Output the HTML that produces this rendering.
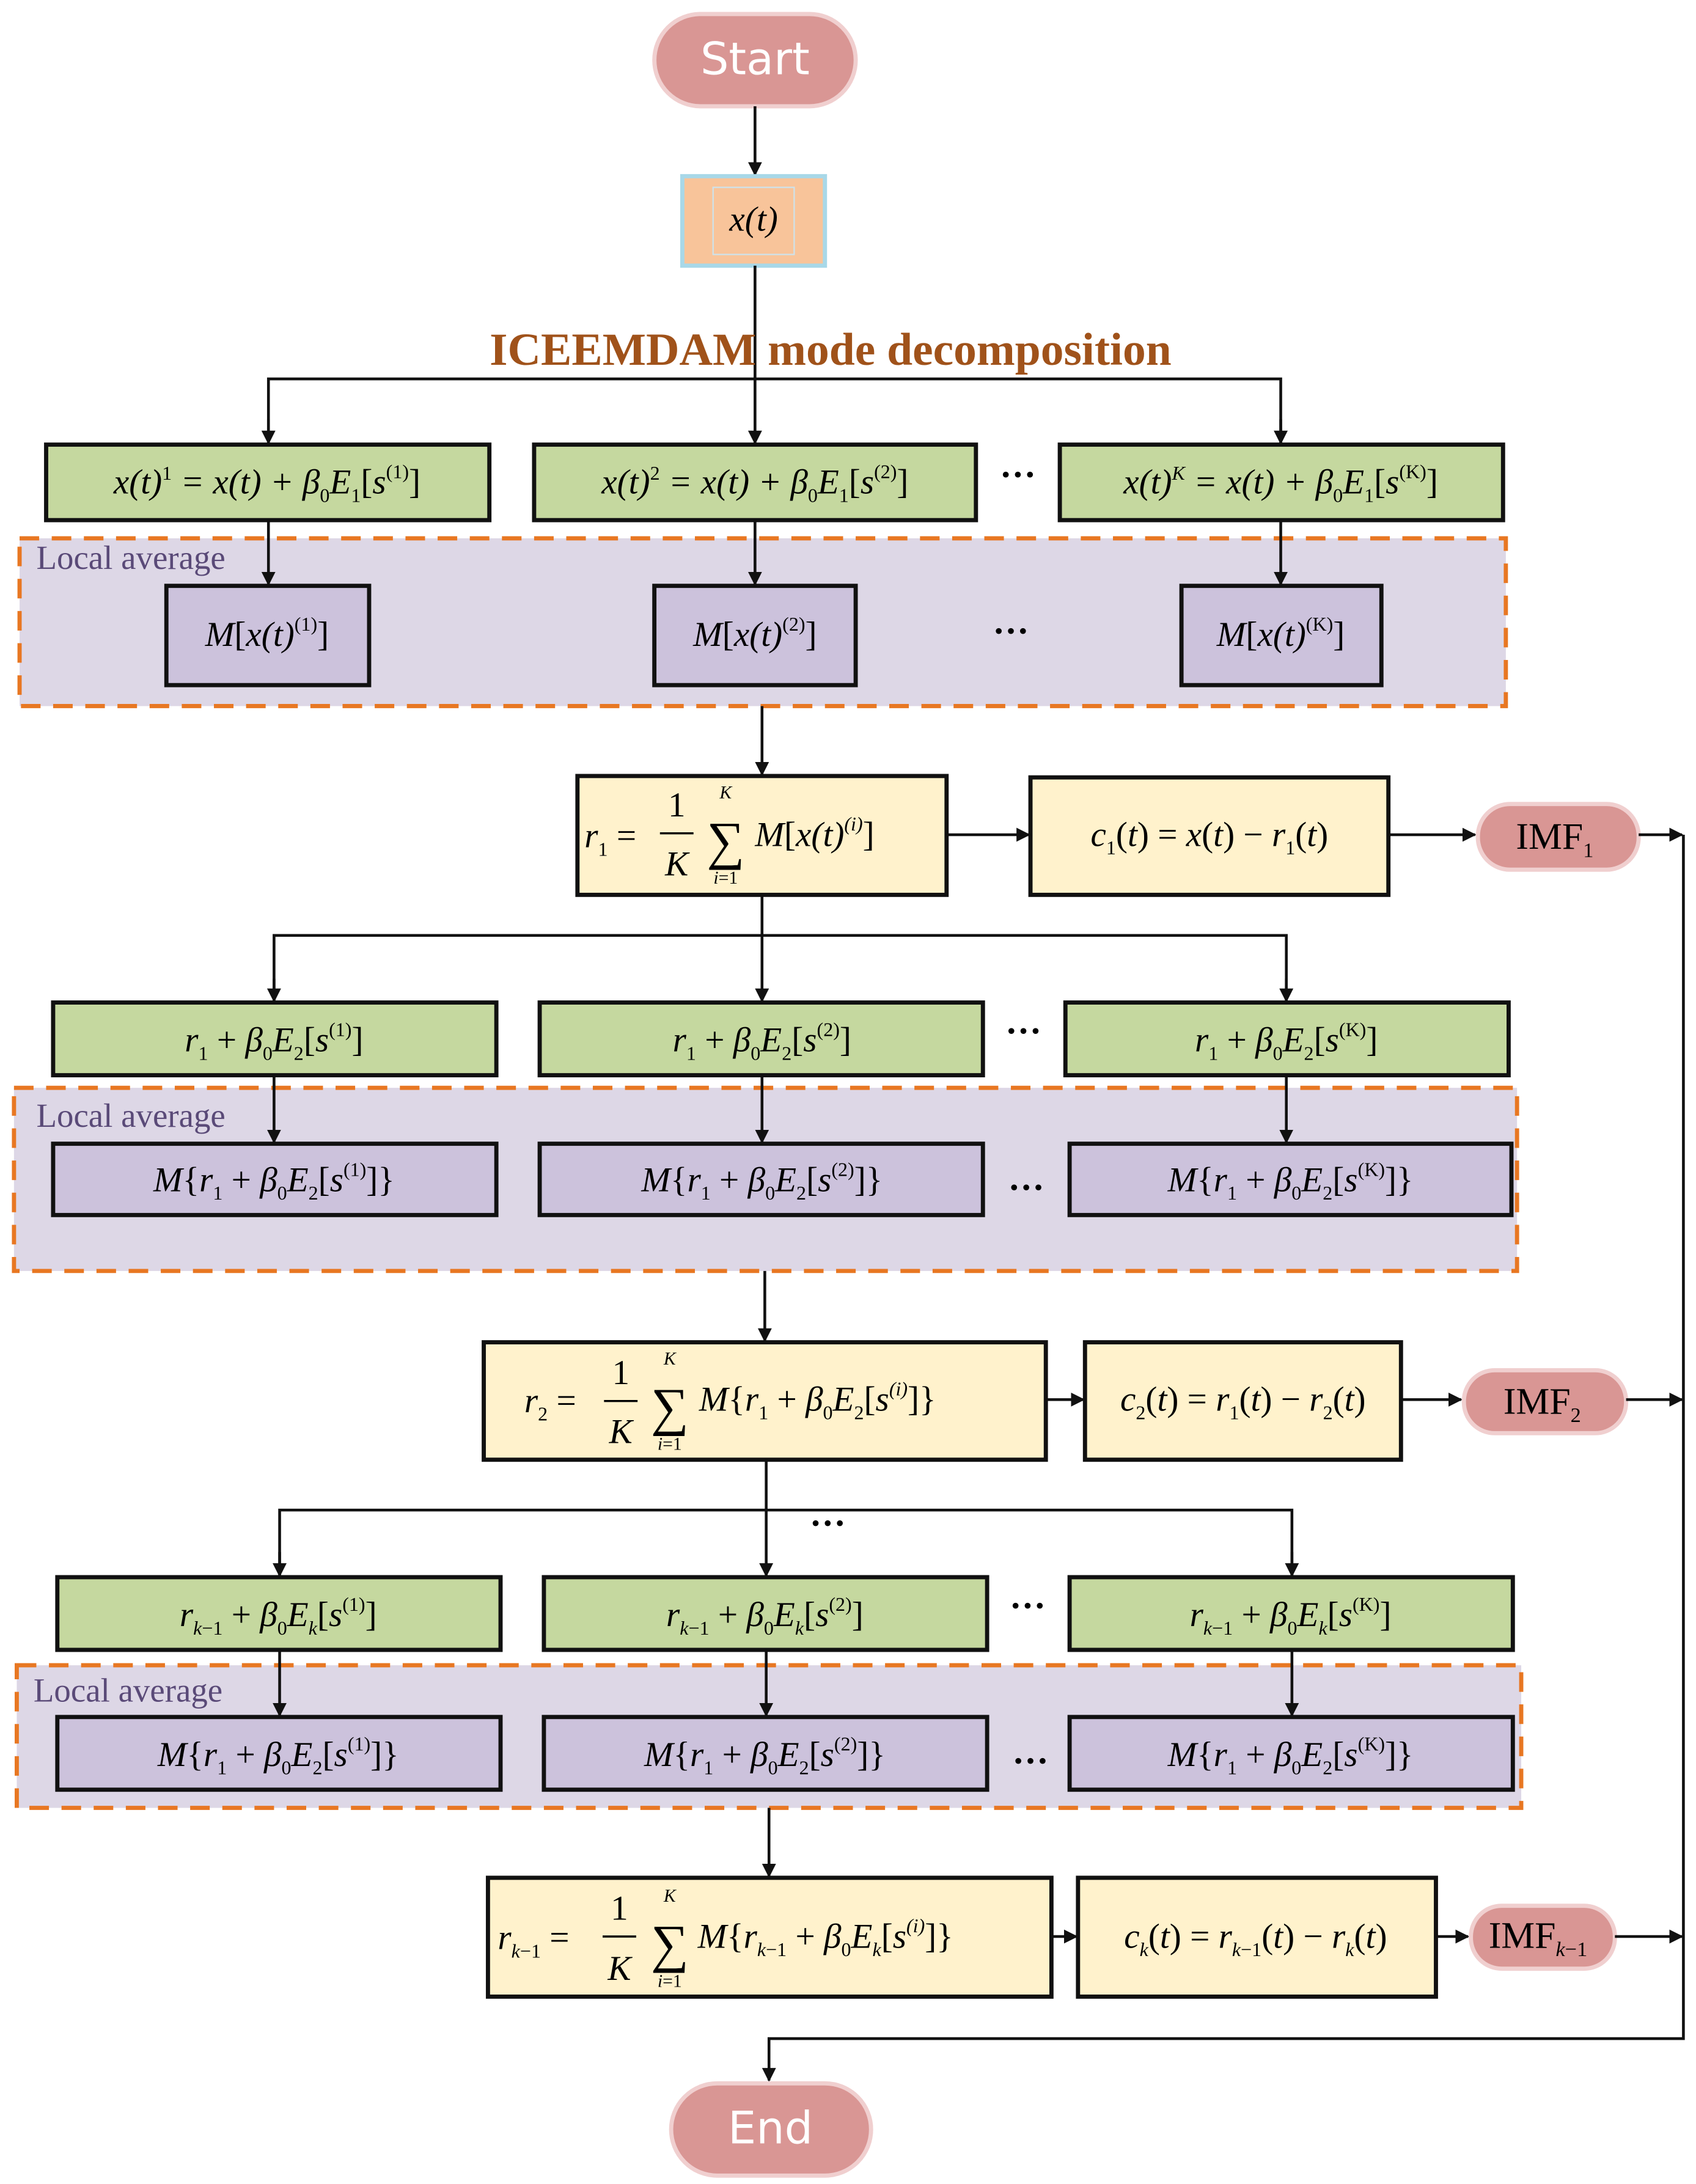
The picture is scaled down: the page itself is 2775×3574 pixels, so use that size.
<!DOCTYPE html>
<html><head><meta charset="utf-8"><style>
html,body{margin:0;padding:0;background:#fff}
svg{display:block}
.m{font-family:"Liberation Serif",serif;font-style:italic;font-size:25px;fill:#000}
.u{font-style:normal}
.la{font-family:"Liberation Serif",serif;font-size:24px;fill:#5a4a78}
.g{fill:#c5d89f;stroke:#111;stroke-width:3}
.p{fill:#ccc2dc;stroke:#111;stroke-width:3}
.y{fill:#fff2cc;stroke:#111;stroke-width:3}
.reg{fill:#ddd7e6;stroke:#e87722;stroke-width:3;stroke-dasharray:14 9}
.ln{stroke:#111;stroke-width:2;fill:none}
.pill{fill:#d99694;stroke:#f0cfcf;stroke-width:3}
.pt{font-family:"DejaVu Sans",sans-serif;font-size:32px;fill:#fff}
.imf{font-family:"Liberation Serif",serif;font-size:27px;fill:#000}
</style></head><body>
<svg width="2775" height="3574" viewBox="0 0 1213 1562" preserveAspectRatio="none" xmlns="http://www.w3.org/2000/svg">
<defs><marker id="a" markerWidth="10" markerHeight="10" refX="9" refY="5" orient="auto" markerUnits="userSpaceOnUse"><path d="M0,0 L10,5 L0,10 z" fill="#111"/></marker></defs>

<!-- Start -->
<rect x="468" y="10" width="144" height="66" rx="33" class="pill"/>
<text x="540" y="53" text-anchor="middle" class="pt">Start</text>
<line x1="540" y1="76" x2="540" y2="125" class="ln" marker-end="url(#a)"/>
<rect x="488" y="126" width="102" height="64" fill="#f8c49a" stroke="#a8d8e8" stroke-width="3"/>
<rect x="510" y="134" width="58" height="48" fill="none" stroke="#cfe2ea" stroke-width="1"/>
<text x="539" y="165" text-anchor="middle" class="m">x(t)</text>
<line x1="540" y1="190" x2="540" y2="317" class="ln" marker-end="url(#a)"/>
<text x="594" y="261" text-anchor="middle" font-family="Liberation Serif,serif" font-weight="bold" font-size="33" fill="#a0521a">ICEEMDAM mode decomposition</text>
<polyline points="192,317 192,271 916,271 916,317" class="ln"/>
<line x1="192" y1="300" x2="192" y2="317" class="ln" marker-end="url(#a)"/>
<line x1="916" y1="300" x2="916" y2="317" class="ln" marker-end="url(#a)"/>

<!-- Row1 green -->
<rect x="33" y="318" width="317" height="54" class="g"/>
<text x="191" y="353" text-anchor="middle" class="m">x(t)<tspan dy="-10" font-size="14" class="u">1</tspan><tspan dy="10"> = x(t) + β</tspan><tspan dy="6" font-size="14" class="u">0</tspan><tspan dy="-6">E</tspan><tspan dy="6" font-size="14" class="u">1</tspan><tspan dy="-6" class="u">[</tspan>s<tspan dy="-11" font-size="14" class="u">(1)</tspan><tspan dy="11" class="u">]</tspan></text>
<rect x="382" y="318" width="316" height="54" class="g"/>
<text x="540" y="353" text-anchor="middle" class="m">x(t)<tspan dy="-10" font-size="14" class="u">2</tspan><tspan dy="10"> = x(t) + β</tspan><tspan dy="6" font-size="14" class="u">0</tspan><tspan dy="-6">E</tspan><tspan dy="6" font-size="14" class="u">1</tspan><tspan dy="-6" class="u">[</tspan>s<tspan dy="-11" font-size="14" class="u">(2)</tspan><tspan dy="11" class="u">]</tspan></text>
<text x="728" y="348" text-anchor="middle" font-size="26" font-weight="bold">···</text>
<rect x="758" y="318" width="317" height="54" class="g"/>
<text x="916" y="353" text-anchor="middle" class="m">x(t)<tspan dy="-10" font-size="14">K</tspan><tspan dy="10"> = x(t) + β</tspan><tspan dy="6" font-size="14" class="u">0</tspan><tspan dy="-6">E</tspan><tspan dy="6" font-size="14" class="u">1</tspan><tspan dy="-6" class="u">[</tspan>s<tspan dy="-11" font-size="14" class="u">(K)</tspan><tspan dy="11" class="u">]</tspan></text>

<!-- Region1 -->
<rect x="14" y="385" width="1063" height="120" class="reg"/>
<text x="26" y="407" class="la">Local average</text>
<line x1="192" y1="372" x2="192" y2="418" class="ln" marker-end="url(#a)"/>
<line x1="540" y1="372" x2="540" y2="418" class="ln" marker-end="url(#a)"/>
<line x1="916" y1="372" x2="916" y2="418" class="ln" marker-end="url(#a)"/>
<rect x="119" y="419" width="145" height="71" class="p"/>
<text x="191" y="462" text-anchor="middle" class="m">M<tspan class="u">[</tspan>x(t)<tspan dy="-11" font-size="14" class="u">(1)</tspan><tspan dy="11" class="u">]</tspan></text>
<rect x="468" y="419" width="144" height="71" class="p"/>
<text x="540" y="462" text-anchor="middle" class="m">M<tspan class="u">[</tspan>x(t)<tspan dy="-11" font-size="14" class="u">(2)</tspan><tspan dy="11" class="u">]</tspan></text>
<text x="723" y="460" text-anchor="middle" font-size="26" font-weight="bold">···</text>
<rect x="845" y="419" width="143" height="71" class="p"/>
<text x="916" y="462" text-anchor="middle" class="m">M<tspan class="u">[</tspan>x(t)<tspan dy="-11" font-size="14" class="u">(K)</tspan><tspan dy="11" class="u">]</tspan></text>
<line x1="545" y1="505" x2="545" y2="554" class="ln" marker-end="url(#a)"/>

<!-- r1 -->
<rect x="413" y="555" width="264" height="85" class="y"/>
<text x="418" y="606" class="m">r<tspan dy="6" font-size="14" class="u">1</tspan><tspan dy="-6" class="u"> = </tspan></text>
<text x="484" y="584" text-anchor="middle" class="m u" style="font-style:normal">1</text>
<line x1="472" y1="596" x2="496" y2="596" stroke="#000" stroke-width="1.5"/>
<text x="484" y="626" text-anchor="middle" class="m">K</text>
<text x="519" y="571" text-anchor="middle" class="m" font-size="13" style="font-size:13px">K</text>
<text x="519" y="614" text-anchor="middle" font-family="Liberation Serif,serif" font-size="38">∑</text>
<text x="519" y="632" text-anchor="middle" class="m" style="font-size:13px">i<tspan class="u">=1</tspan></text>
<text x="540" y="605" class="m">M<tspan class="u">[</tspan>x(t)<tspan dy="-11" font-size="14">(i)</tspan><tspan dy="11" class="u">]</tspan></text>
<line x1="677" y1="597" x2="736" y2="597" class="ln" stroke-width="3" marker-end="url(#a)"/>
<rect x="737" y="556" width="256" height="84" class="y"/>
<text x="865" y="605" text-anchor="middle" class="m">c<tspan dy="6" font-size="14" class="u">1</tspan><tspan dy="-6" class="u">(</tspan>t<tspan class="u">) = </tspan>x<tspan class="u">(</tspan>t<tspan class="u">) − </tspan>r<tspan dy="6" font-size="14" class="u">1</tspan><tspan dy="-6" class="u">(</tspan>t<tspan class="u">)</tspan></text>
<line x1="993" y1="597" x2="1055" y2="597" class="ln" stroke-width="3" marker-end="url(#a)"/>
<rect x="1057" y="575" width="115" height="47" rx="23" class="pill"/>
<text x="1112" y="607" text-anchor="middle" class="imf">IMF<tspan dy="6" font-size="15">1</tspan></text>
<line x1="1172" y1="597" x2="1203" y2="597" class="ln" stroke-width="3" marker-end="url(#a)"/>

<!-- right return line -->
<polyline points="1204,597 1204,1458 550,1458 550,1488" class="ln" marker-end="url(#a)"/>

<!-- branch 2 -->
<line x1="545" y1="640" x2="545" y2="716" class="ln" marker-end="url(#a)"/>
<polyline points="196,716 196,669 920,669 920,716" class="ln"/>
<line x1="196" y1="700" x2="196" y2="716" class="ln" marker-end="url(#a)"/>
<line x1="920" y1="700" x2="920" y2="716" class="ln" marker-end="url(#a)"/>

<rect x="38" y="717" width="317" height="52" class="g"/>
<text x="196" y="752" text-anchor="middle" class="m">r<tspan dy="6" font-size="14" class="u">1</tspan><tspan dy="-6" class="u"> + </tspan>β<tspan dy="6" font-size="14" class="u">0</tspan><tspan dy="-6">E</tspan><tspan dy="6" font-size="14" class="u">2</tspan><tspan dy="-6" class="u">[</tspan>s<tspan dy="-11" font-size="14" class="u">(1)</tspan><tspan dy="11" class="u">]</tspan></text>
<rect x="386" y="717" width="317" height="52" class="g"/>
<text x="545" y="752" text-anchor="middle" class="m">r<tspan dy="6" font-size="14" class="u">1</tspan><tspan dy="-6" class="u"> + </tspan>β<tspan dy="6" font-size="14" class="u">0</tspan><tspan dy="-6">E</tspan><tspan dy="6" font-size="14" class="u">2</tspan><tspan dy="-6" class="u">[</tspan>s<tspan dy="-11" font-size="14" class="u">(2)</tspan><tspan dy="11" class="u">]</tspan></text>
<text x="732" y="746" text-anchor="middle" font-size="26" font-weight="bold">···</text>
<rect x="762" y="717" width="317" height="52" class="g"/>
<text x="920" y="752" text-anchor="middle" class="m">r<tspan dy="6" font-size="14" class="u">1</tspan><tspan dy="-6" class="u"> + </tspan>β<tspan dy="6" font-size="14" class="u">0</tspan><tspan dy="-6">E</tspan><tspan dy="6" font-size="14" class="u">2</tspan><tspan dy="-6" class="u">[</tspan>s<tspan dy="-11" font-size="14" class="u">(K)</tspan><tspan dy="11" class="u">]</tspan></text>

<rect x="10" y="778" width="1075" height="131" class="reg"/>
<text x="26" y="806" class="la">Local average</text>
<line x1="196" y1="769" x2="196" y2="817" class="ln" marker-end="url(#a)"/>
<line x1="545" y1="769" x2="545" y2="817" class="ln" marker-end="url(#a)"/>
<line x1="920" y1="769" x2="920" y2="817" class="ln" marker-end="url(#a)"/>
<rect x="38" y="818" width="317" height="51" class="p"/>
<text x="196" y="852" text-anchor="middle" class="m">M<tspan class="u">{</tspan>r<tspan dy="6" font-size="14" class="u">1</tspan><tspan dy="-6" class="u"> + </tspan>β<tspan dy="6" font-size="14" class="u">0</tspan><tspan dy="-6">E</tspan><tspan dy="6" font-size="14" class="u">2</tspan><tspan dy="-6" class="u">[</tspan>s<tspan dy="-11" font-size="14" class="u">(1)</tspan><tspan dy="11" class="u">]}</tspan></text>
<rect x="386" y="818" width="317" height="51" class="p"/>
<text x="545" y="852" text-anchor="middle" class="m">M<tspan class="u">{</tspan>r<tspan dy="6" font-size="14" class="u">1</tspan><tspan dy="-6" class="u"> + </tspan>β<tspan dy="6" font-size="14" class="u">0</tspan><tspan dy="-6">E</tspan><tspan dy="6" font-size="14" class="u">2</tspan><tspan dy="-6" class="u">[</tspan>s<tspan dy="-11" font-size="14" class="u">(2)</tspan><tspan dy="11" class="u">]}</tspan></text>
<text x="734" y="858" text-anchor="middle" font-size="26" font-weight="bold">···</text>
<rect x="765" y="818" width="316" height="51" class="p"/>
<text x="923" y="852" text-anchor="middle" class="m">M<tspan class="u">{</tspan>r<tspan dy="6" font-size="14" class="u">1</tspan><tspan dy="-6" class="u"> + </tspan>β<tspan dy="6" font-size="14" class="u">0</tspan><tspan dy="-6">E</tspan><tspan dy="6" font-size="14" class="u">2</tspan><tspan dy="-6" class="u">[</tspan>s<tspan dy="-11" font-size="14" class="u">(K)</tspan><tspan dy="11" class="u">]}</tspan></text>
<line x1="547" y1="909" x2="547" y2="959" class="ln" marker-end="url(#a)"/>

<!-- r2 -->
<rect x="346" y="960" width="402" height="84" class="y"/>
<text x="375" y="1010" class="m">r<tspan dy="6" font-size="14" class="u">2</tspan><tspan dy="-6" class="u"> = </tspan></text>
<text x="444" y="990" text-anchor="middle" class="m" style="font-style:normal">1</text>
<line x1="432" y1="1002" x2="456" y2="1002" stroke="#000" stroke-width="1.5"/>
<text x="444" y="1032" text-anchor="middle" class="m">K</text>
<text x="479" y="976" text-anchor="middle" class="m" style="font-size:13px">K</text>
<text x="479" y="1019" text-anchor="middle" font-family="Liberation Serif,serif" font-size="38">∑</text>
<text x="479" y="1037" text-anchor="middle" class="m" style="font-size:13px">i<tspan class="u">=1</tspan></text>
<text x="500" y="1009" class="m">M<tspan class="u">{</tspan>r<tspan dy="6" font-size="14" class="u">1</tspan><tspan dy="-6" class="u"> + </tspan>β<tspan dy="6" font-size="14" class="u">0</tspan><tspan dy="-6">E</tspan><tspan dy="6" font-size="14" class="u">2</tspan><tspan dy="-6" class="u">[</tspan>s<tspan dy="-11" font-size="14">(i)</tspan><tspan dy="11" class="u">]}</tspan></text>
<line x1="748" y1="1001" x2="775" y2="1001" class="ln" stroke-width="3" marker-end="url(#a)"/>
<rect x="776" y="960" width="226" height="84" class="y"/>
<text x="889" y="1009" text-anchor="middle" class="m">c<tspan dy="6" font-size="14" class="u">2</tspan><tspan dy="-6" class="u">(</tspan>t<tspan class="u">) = </tspan>r<tspan dy="6" font-size="14" class="u">1</tspan><tspan dy="-6" class="u">(</tspan>t<tspan class="u">) − </tspan>r<tspan dy="6" font-size="14" class="u">2</tspan><tspan dy="-6" class="u">(</tspan>t<tspan class="u">)</tspan></text>
<line x1="1002" y1="1001" x2="1045" y2="1001" class="ln" stroke-width="3" marker-end="url(#a)"/>
<rect x="1047" y="980" width="116" height="45" rx="22" class="pill"/>
<text x="1103" y="1011" text-anchor="middle" class="imf">IMF<tspan dy="6" font-size="15">2</tspan></text>
<line x1="1163" y1="1001" x2="1203" y2="1001" class="ln" stroke-width="3" marker-end="url(#a)"/>

<!-- branch k -->
<line x1="548" y1="1044" x2="548" y2="1127" class="ln" marker-end="url(#a)"/>
<polyline points="200,1127 200,1080 924,1080 924,1127" class="ln"/>
<line x1="200" y1="1110" x2="200" y2="1127" class="ln" marker-end="url(#a)"/>
<line x1="924" y1="1110" x2="924" y2="1127" class="ln" marker-end="url(#a)"/>
<text x="592" y="1098" text-anchor="middle" font-size="26" font-weight="bold">···</text>

<rect x="41" y="1128" width="317" height="52" class="g"/>
<text x="199" y="1163" text-anchor="middle" class="m">r<tspan dy="6" font-size="14">k<tspan class="u">−1</tspan></tspan><tspan dy="-6" class="u"> + </tspan>β<tspan dy="6" font-size="14" class="u">0</tspan><tspan dy="-6">E</tspan><tspan dy="6" font-size="14">k</tspan><tspan dy="-6" class="u">[</tspan>s<tspan dy="-11" font-size="14" class="u">(1)</tspan><tspan dy="11" class="u">]</tspan></text>
<rect x="389" y="1128" width="317" height="52" class="g"/>
<text x="547" y="1163" text-anchor="middle" class="m">r<tspan dy="6" font-size="14">k<tspan class="u">−1</tspan></tspan><tspan dy="-6" class="u"> + </tspan>β<tspan dy="6" font-size="14" class="u">0</tspan><tspan dy="-6">E</tspan><tspan dy="6" font-size="14">k</tspan><tspan dy="-6" class="u">[</tspan>s<tspan dy="-11" font-size="14" class="u">(2)</tspan><tspan dy="11" class="u">]</tspan></text>
<text x="735" y="1157" text-anchor="middle" font-size="26" font-weight="bold">···</text>
<rect x="765" y="1128" width="317" height="52" class="g"/>
<text x="923" y="1163" text-anchor="middle" class="m">r<tspan dy="6" font-size="14">k<tspan class="u">−1</tspan></tspan><tspan dy="-6" class="u"> + </tspan>β<tspan dy="6" font-size="14" class="u">0</tspan><tspan dy="-6">E</tspan><tspan dy="6" font-size="14">k</tspan><tspan dy="-6" class="u">[</tspan>s<tspan dy="-11" font-size="14" class="u">(K)</tspan><tspan dy="11" class="u">]</tspan></text>

<rect x="12" y="1191" width="1076" height="102" class="reg"/>
<text x="24" y="1217" class="la">Local average</text>
<line x1="200" y1="1180" x2="200" y2="1227" class="ln" marker-end="url(#a)"/>
<line x1="548" y1="1180" x2="548" y2="1227" class="ln" marker-end="url(#a)"/>
<line x1="924" y1="1180" x2="924" y2="1227" class="ln" marker-end="url(#a)"/>
<rect x="41" y="1228" width="317" height="52" class="p"/>
<text x="199" y="1263" text-anchor="middle" class="m">M<tspan class="u">{</tspan>r<tspan dy="6" font-size="14" class="u">1</tspan><tspan dy="-6" class="u"> + </tspan>β<tspan dy="6" font-size="14" class="u">0</tspan><tspan dy="-6">E</tspan><tspan dy="6" font-size="14" class="u">2</tspan><tspan dy="-6" class="u">[</tspan>s<tspan dy="-11" font-size="14" class="u">(1)</tspan><tspan dy="11" class="u">]}</tspan></text>
<rect x="389" y="1228" width="317" height="52" class="p"/>
<text x="547" y="1263" text-anchor="middle" class="m">M<tspan class="u">{</tspan>r<tspan dy="6" font-size="14" class="u">1</tspan><tspan dy="-6" class="u"> + </tspan>β<tspan dy="6" font-size="14" class="u">0</tspan><tspan dy="-6">E</tspan><tspan dy="6" font-size="14" class="u">2</tspan><tspan dy="-6" class="u">[</tspan>s<tspan dy="-11" font-size="14" class="u">(2)</tspan><tspan dy="11" class="u">]}</tspan></text>
<text x="737" y="1268" text-anchor="middle" font-size="26" font-weight="bold">···</text>
<rect x="765" y="1228" width="317" height="52" class="p"/>
<text x="923" y="1263" text-anchor="middle" class="m">M<tspan class="u">{</tspan>r<tspan dy="6" font-size="14" class="u">1</tspan><tspan dy="-6" class="u"> + </tspan>β<tspan dy="6" font-size="14" class="u">0</tspan><tspan dy="-6">E</tspan><tspan dy="6" font-size="14" class="u">2</tspan><tspan dy="-6" class="u">[</tspan>s<tspan dy="-11" font-size="14" class="u">(K)</tspan><tspan dy="11" class="u">]}</tspan></text>
<line x1="550" y1="1293" x2="550" y2="1342" class="ln" marker-end="url(#a)"/>

<!-- rk -->
<rect x="349" y="1343" width="403" height="85" class="y"/>
<text x="356" y="1394" class="m">r<tspan dy="6" font-size="14">k<tspan class="u">−1</tspan></tspan><tspan dy="-6" class="u"> = </tspan></text>
<text x="443" y="1373" text-anchor="middle" class="m" style="font-style:normal">1</text>
<line x1="431" y1="1385" x2="455" y2="1385" stroke="#000" stroke-width="1.5"/>
<text x="443" y="1416" text-anchor="middle" class="m">K</text>
<text x="479" y="1360" text-anchor="middle" class="m" style="font-size:13px">K</text>
<text x="479" y="1403" text-anchor="middle" font-family="Liberation Serif,serif" font-size="38">∑</text>
<text x="479" y="1421" text-anchor="middle" class="m" style="font-size:13px">i<tspan class="u">=1</tspan></text>
<text x="499" y="1393" class="m">M<tspan class="u">{</tspan>r<tspan dy="6" font-size="14">k<tspan class="u">−1</tspan></tspan><tspan dy="-6" class="u"> + </tspan>β<tspan dy="6" font-size="14" class="u">0</tspan><tspan dy="-6">E</tspan><tspan dy="6" font-size="14">k</tspan><tspan dy="-6" class="u">[</tspan>s<tspan dy="-11" font-size="14">(i)</tspan><tspan dy="11" class="u">]}</tspan></text>
<line x1="752" y1="1385" x2="770" y2="1385" class="ln" stroke-width="3" marker-end="url(#a)"/>
<rect x="771" y="1343" width="256" height="85" class="y"/>
<text x="898" y="1393" text-anchor="middle" class="m">c<tspan dy="6" font-size="14">k</tspan><tspan dy="-6" class="u">(</tspan>t<tspan class="u">) = </tspan>r<tspan dy="6" font-size="14">k<tspan class="u">−1</tspan></tspan><tspan dy="-6" class="u">(</tspan>t<tspan class="u">) − </tspan>r<tspan dy="6" font-size="14">k</tspan><tspan dy="-6" class="u">(</tspan>t<tspan class="u">)</tspan></text>
<line x1="1027" y1="1385" x2="1050" y2="1385" class="ln" stroke-width="3" marker-end="url(#a)"/>
<rect x="1052" y="1363" width="103" height="45" rx="22" class="pill"/>
<text x="1100" y="1393" text-anchor="middle" class="imf">IMF<tspan dy="6" font-size="15" font-style="italic">k<tspan font-style="normal">−1</tspan></tspan></text>
<line x1="1155" y1="1385" x2="1203" y2="1385" class="ln" stroke-width="3" marker-end="url(#a)"/>

<!-- End -->
<rect x="480" y="1490" width="143" height="66" rx="33" class="pill"/>
<text x="551" y="1533" text-anchor="middle" class="pt">End</text>
</svg>
</body></html>
